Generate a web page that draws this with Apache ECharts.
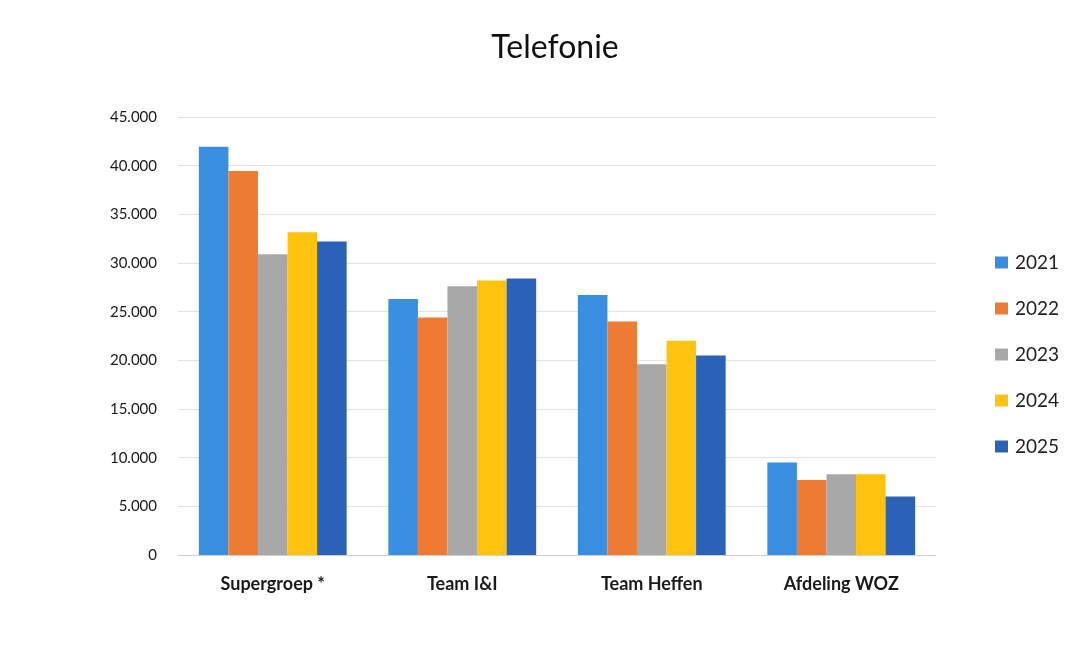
<!DOCTYPE html>
<html><head><meta charset="utf-8">
<script src="https://cdn.jsdelivr.net/npm/echarts@6/dist/echarts.min.js"></script>
<style>html,body{margin:0;padding:0;background:#fff}#c{width:1080px;height:649px}</style>
</head><body><div id="c"></div>
<script>
const categories = ["Supergroep *", "Team I&I", "Team Heffen", "Afdeling WOZ"];
const years = ["2021", "2022", "2023", "2024", "2025"];
const v2021 = [41950, 26300, 26700, 9500];
const v2022 = [39450, 24400, 24000, 7700];
const v2023 = [30900, 27600, 19600, 8300];
const v2024 = [33150, 28200, 22000, 8300];
const v2025 = [32200, 28400, 20500, 6000];
const colors = ["#3a8ee0", "#ee7b33", "#a8a8a8", "#ffc20e", "#2a62b8"];
const values = [v2021, v2022, v2023, v2024, v2025];
const font = "Lato, 'Open Sans', sans-serif";
const chart = echarts.init(document.getElementById('c'));
chart.setOption({
  animation: false,
  title: { text: "Telefonie", left: 550, top: 27, textAlign: 'center',
    textStyle: { fontFamily: font, fontSize: 32, fontWeight: 'normal', color: '#111' } },
  grid: { left: 178, right: 144, top: 117, bottom: 94 },
  legend: { orient: 'vertical', left: 990, top: 248, itemGap: 27, itemWidth: 13, itemHeight: 12,
    icon: 'rect', data: years,
    textStyle: { fontFamily: font, fontSize: 19, color: '#222', padding: [0,0,0,2] } },
  xAxis: { type: 'category', data: categories,
    axisLine: { lineStyle: { color: '#d0d0d0' } }, axisTick: { show: false },
    axisLabel: { fontFamily: font, fontSize: 18, fontWeight: 'bold', color: '#1a1a1a', margin: 20 } },
  yAxis: { type: 'value', min: 0, max: 45000, interval: 5000,
    axisLine: { show: false }, axisTick: { show: false },
    splitLine: { lineStyle: { color: '#e2e2e2' } },
    axisLabel: { fontFamily: font, fontSize: 15, color: '#1a1a1a', margin: 21,
      formatter: v => v === 0 ? '0' : String(v).replace(/\B(?=(\d{3})+(?!\d))/g, '.') } },
  series: years.map((y, i) => ({
    name: y, type: 'bar', data: values[i], barGap: '0%', barCategoryGap: '22%',
    itemStyle: { color: colors[i] }
  }))
});
</script></body></html>
